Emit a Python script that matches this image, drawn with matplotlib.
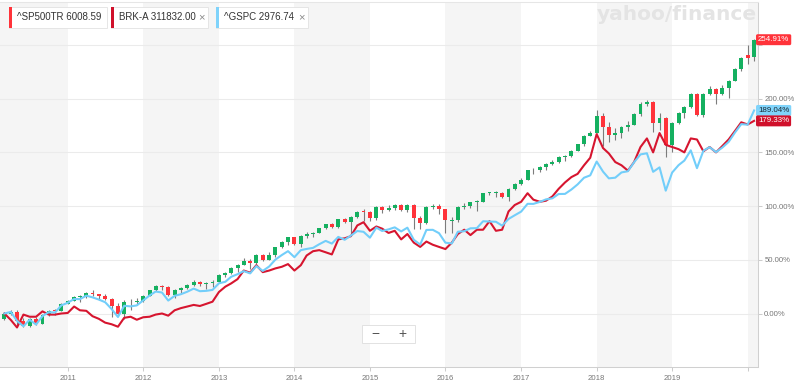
import matplotlib
matplotlib.use("Agg")
import matplotlib.pyplot as plt
import matplotlib.dates as mdates
import matplotlib.transforms as mtransforms
from matplotlib.patches import Rectangle
from datetime import datetime
import pandas as pd

plt.rcParams['font.family'] = ['Liberation Sans', 'DejaVu Sans']

# ---------------- data (percent change since Mar 2010) ----------------
months = pd.date_range('2010-03-01', periods=120, freq='MS')

tr_open = [-5.5, 0.0, 1.66, -6.52, -11.40, -5.15, -9.49, -1.40, 2.41, 2.35,
           9.22, 11.89, 15.66, 15.74, 19.25, 17.84, 15.89, 13.60, 7.33, -0.20, 10.74, 10.37,
           11.51, 16.57, 21.51, 25.53, 24.81, 17.19, 22.03, 23.79, 26.45, 29.73, 27.39, 27.97,
           29.10, 35.85, 37.58, 42.78, 45.61, 48.90, 46.92, 54.45, 49.87, 54.59, 61.77, 66.60,
           70.82, 65.02, 72.43, 73.93, 75.31, 79.31, 83.03, 80.58, 87.71, 85.12, 89.74, 94.73,
           94.25, 88.54, 99.24, 96.11, 98.13, 100.55, 96.67, 100.90, 88.65, 83.99, 99.60, 100.04,
           96.87, 86.00, 86.76, 99.42, 100.31, 103.73, 104.27, 111.91, 112.01, 112.12, 108.36, 115.84,
           120.16, 124.48, 133.23, 133.54, 136.08, 139.22, 140.79, 145.87, 146.42, 151.61, 157.64, 165.34,
           168.41, 183.98, 173.39, 166.49, 167.69, 173.94, 175.74, 186.17, 195.33, 197.12, 176.98, 182.41,
           156.93, 177.63, 186.38, 192.01, 204.01, 184.51, 204.64, 209.18, 204.11, 209.87, 216.75, 228.09,
           240.50, 239.00]

tr_high = [1.0, 3.5, 3.0, -4.0, -4.0, -3.0, -0.5, 3.5, 4.0, 9.8,
           13.0, 16.6, 17.0, 20.0, 21.5, 18.5, 18.5, 14.0, 10.0, 12.7, 13.5, 14.0,
           17.0, 22.0, 26.5, 26.5, 25.5, 22.8, 25.0, 27.5, 31.5, 30.5, 29.0, 31.0,
           36.5, 38.5, 43.2, 46.5, 52.0, 50.5, 55.0, 55.5, 57.0, 62.0, 67.2, 71.2,
           71.0, 73.2, 75.5, 76.0, 79.8, 83.5, 84.5, 88.3, 89.0, 90.5, 95.5, 97.5,
           95.5, 99.8, 100.5, 101.0, 101.8, 101.5, 102.0, 101.5, 91.0, 100.2, 102.0, 101.5,
           97.0, 89.5, 100.0, 102.5, 104.0, 106.0, 112.5, 113.5, 114.0, 113.0, 117.0, 121.5,
           126.0, 133.8, 135.5, 137.0, 139.8, 142.5, 146.5, 147.5, 152.0, 158.2, 166.0, 170.0,
           189.0, 186.5, 178.0, 172.5, 175.0, 179.0, 187.0, 196.5, 199.0, 198.0, 187.0, 183.0,
           178.5, 188.0, 193.0, 205.5, 205.5, 205.5, 211.5, 209.5, 212.5, 217.5, 228.5, 238.5,
           250.0, 255.2]

tr_low = [-6.5, -1.0, -11.0, -13.0, -13.0, -10.5, -10.0, -2.0, -1.0, 2.0,
          8.8, 11.5, 11.0, 14.5, 16.5, 12.5, 12.5, -3.0, -1.7, -5.1, 3.0, 7.5,
          11.0, 16.0, 20.8, 21.5, 16.0, 14.5, 19.5, 22.5, 26.0, 26.0, 22.5, 24.5,
          29.0, 34.0, 37.0, 38.5, 45.0, 41.0, 46.5, 48.5, 49.5, 52.5, 61.0, 63.5,
          63.5, 61.5, 70.5, 71.0, 74.5, 78.8, 80.0, 79.5, 84.0, 73.0, 89.0, 86.5,
          86.5, 87.5, 93.5, 95.5, 96.5, 95.5, 94.5, 78.5, 79.0, 83.5, 97.0, 93.0,
          75.0, 75.0, 85.5, 97.5, 98.0, 95.5, 103.5, 110.0, 108.0, 107.5, 105.0, 115.0,
          119.5, 124.0, 130.0, 131.5, 134.0, 138.5, 140.5, 142.0, 146.0, 151.5, 156.0, 165.0,
          168.0, 155.5, 160.0, 161.5, 163.5, 170.0, 175.5, 184.0, 193.5, 169.0, 170.5, 146.0,
          150.0, 176.5, 182.0, 191.5, 183.5, 183.0, 203.0, 195.0, 203.0, 200.5, 216.5, 225.5,
          232.5, 235.0]

tr_close = [0.0, 1.66, -6.52, -11.40, -5.15, -9.49, -1.40, 2.41, 2.35, 9.22,
            11.89, 15.66, 15.74, 19.25, 17.84, 15.89, 13.60, 7.33, -0.20, 10.74, 10.37, 11.51,
            16.57, 21.51, 25.53, 24.81, 17.19, 22.03, 23.79, 26.45, 29.73, 27.39, 27.97, 29.10,
            35.85, 37.58, 42.78, 45.61, 48.90, 46.92, 54.45, 49.87, 54.59, 61.77, 66.60, 70.82,
            65.02, 72.43, 73.93, 75.31, 79.31, 83.03, 80.58, 87.71, 85.12, 89.74, 94.73, 94.25,
            88.54, 99.24, 96.11, 98.13, 100.55, 96.67, 100.90, 88.65, 83.99, 99.60, 100.04, 96.87,
            87.20, 86.76, 99.42, 100.31, 103.73, 104.27, 111.91, 112.01, 112.12, 108.36, 115.84, 120.16,
            124.48, 133.23, 133.54, 136.08, 139.22, 140.79, 145.87, 146.42, 151.61, 157.64, 165.34, 168.41,
            183.98, 173.39, 166.49, 167.69, 173.94, 175.74, 186.17, 195.33, 197.12, 176.98, 182.41, 156.93,
            177.63, 186.38, 192.01, 204.01, 184.51, 204.64, 209.18, 204.11, 209.87, 216.75, 228.09, 238.05,
            238.10, 254.91]

brk = [0, -6, -13, -1, -3, -3, 2, -1, -1, 0,
       0.5, 6.5, 3, 2.5, -2.5, -5, -8.5, -10, -12.3, -4, -3, -5.8,
       -3.5, -3, -1, 0, -2, 3, 5, 6.5, 8, 7, 9, 11,
       20, 25, 28, 32, 40, 38, 45, 38.5, 40, 42, 43.5, 46,
       40, 45, 54, 58, 59, 57, 55, 69, 70, 72, 82, 85,
       77, 81, 79, 75, 77, 69, 74, 66, 62, 67, 64, 62,
       60, 66, 74, 78, 73, 78, 78, 86, 77, 78, 95, 101,
       104, 112, 106, 104, 105, 109, 116, 122, 127, 130, 138, 145,
       167, 154, 149, 141, 138, 133, 141, 155, 163, 150, 168, 157,
       155, 153, 150, 163, 162, 151, 155, 150, 156, 162, 170, 178,
       176, 179.33]

gspc = [0, 1.48, -6.84, -11.86, -5.80, -10.27, -2.41, 1.18, 0.95, 7.54,
        9.98, 13.49, 13.37, 16.60, 15.03, 12.93, 10.51, 4.23, -3.25, 7.17, 6.63, 7.54,
        12.23, 16.78, 20.44, 19.54, 12.05, 16.48, 17.95, 20.28, 23.19, 20.76, 21.10, 21.96,
        28.11, 29.52, 34.18, 36.61, 39.45, 37.36, 44.15, 39.64, 43.79, 50.20, 54.42, 58.06,
        52.43, 59.00, 60.11, 61.10, 64.49, 67.62, 65.09, 71.31, 68.65, 72.57, 76.80, 76.06,
        70.59, 79.96, 76.83, 78.34, 80.21, 76.42, 79.90, 68.64, 64.19, 77.81, 77.90, 74.78,
        65.91, 65.23, 76.13, 76.61, 79.31, 79.48, 85.87, 85.64, 85.41, 81.81, 88.02, 91.45,
        94.87, 102.12, 102.04, 103.88, 106.24, 107.23, 111.24, 111.35, 115.43, 120.21, 126.40, 128.62,
        141.47, 132.06, 125.82, 126.44, 131.33, 132.45, 140.83, 148.11, 149.18, 131.89, 136.03, 114.36,
        131.23, 138.11, 142.37, 151.90, 135.33, 151.55, 154.86, 150.25, 154.55, 159.75, 168.59, 176.27,
        175.82, 189.04]

year_labels = ['2011', '2012', '2013', '2014', '2015', '2016', '2017', '2018', '2019', '']
y_ticks = [0, 50, 100, 150, 200, 250]
y_labels = ['0.00%', '50.00%', '100.00%', '150.00%', '200.00%', '']

legend_items = [('^SP500TR 6008.59', '#ff333a', False),
                ('BRK-A 311832.00', '#d0102b', True),
                ('^GSPC 2976.74', '#7fd3fb', True)]
last_labels = [('254.91%', tr_close[-1], '#ff333a', 'white'),
               ('189.04%', gspc[-1], '#80d4fb', '#1b2a35'),
               ('179.33%', brk[-1], '#d0102b', 'white')]

# ---------------- figure ----------------
W, H = 800, 381
fig = plt.figure(figsize=(W / 100, H / 100), dpi=100)
ax = fig.add_axes([0, 14 / H, 758 / W, 365 / H])

xs = mdates.date2num(months.to_pydatetime())
d = lambda y, m=1, dd=1: mdates.date2num(datetime(y, m, dd))
x_left = d(2011) - 327.3
x_right = d(2011) + 3337.0
ax.set_xlim(x_left, x_right)
ax.set_ylim(-49.8, 290.0)

# alternating year bands
band_color = '#f5f5f5'
ax.axvspan(x_left, d(2011), color=band_color, lw=0, zorder=0)
for y in (2012, 2014, 2016, 2018):
    ax.axvspan(d(y), d(y + 1), color=band_color, lw=0, zorder=0)
ax.axvspan(d(2020), x_right, color=band_color, lw=0, zorder=0)

for v in y_ticks:
    ax.axhline(v, color='#ebebeb', lw=0.75, zorder=1)

# watermark
ax.text(0.893, 0.965, 'yahoo/finance', transform=ax.transAxes, ha='center', va='center',
        fontsize=14.5, fontweight='bold', color='#e4e4e4', zorder=1,
        family=['DejaVu Sans'])

# candlesticks
up = '#15b060'
down = '#ff333a'
colors = [up if c >= o else down for o, c in zip(tr_open, tr_close)]
bottoms = [min(o, c) for o, c in zip(tr_open, tr_close)]
heights = [max(abs(c - o), 0.8) for o, c in zip(tr_open, tr_close)]
ax.vlines(xs, tr_low, tr_high, color='#7c7c7c', lw=0.8, zorder=2)
ax.bar(xs, heights, bottom=bottoms, width=19, color=colors, lw=0, zorder=3)

# comparison lines
ax.plot(xs, brk, color='#d6152f', lw=1.5, zorder=4, solid_joinstyle='round')
ax.plot(xs, gspc, color='#72cefa', lw=1.5, zorder=5, solid_joinstyle='round')

# axes styling
for s in ('left',):
    ax.spines[s].set_visible(False)
ax.spines['top'].set_color('#e6e6e6')
ax.spines['right'].set_color('#d0d0d0')
ax.spines['bottom'].set_color('#d0d0d0')
for s in ('top', 'right', 'bottom'):
    ax.spines[s].set_linewidth(0.75)

ax.set_xticks([d(y) for y in range(2011, 2021)])
ax.set_xticklabels(year_labels)
ax.tick_params(axis='x', direction='out', length=3, width=0.75, color='#cccccc',
               labelsize=5.6, labelcolor='#777777', pad=2.5)
ax.yaxis.tick_right()
ax.set_yticks(y_ticks)
ax.set_yticklabels(y_labels)
ax.tick_params(axis='y', direction='out', length=3, width=0.75, color='#cccccc',
               labelsize=5.6, labelcolor='#777777', pad=1.5)

# last value boxes
trans = mtransforms.blended_transform_factory(ax.transAxes, ax.transData)
for txt, val, fc, tc in last_labels:
    ax.text(1.0, val, txt, transform=trans, ha='left', va='center', fontsize=5.7,
            color=tc, zorder=10, clip_on=False,
            bbox=dict(boxstyle='round,pad=0.25,rounding_size=0.2', fc=fc, ec='none'))


# ---------------- overlays in pixel coordinates ----------------
def fx(px):
    return px / W


def fy(py):
    return 1 - py / H


chip_spans = [(9, 107), (111, 208), (216, 308)]
for (label, col, closable), (x0, x1) in zip(legend_items, chip_spans):
    fig.add_artist(Rectangle((fx(x0), fy(28)), fx(x1 - x0), 21 / H, transform=fig.transFigure,
                             fc='white', ec='#e2e2e2', lw=0.6, zorder=20))
    fig.add_artist(Rectangle((fx(x0), fy(28)), fx(3.2), 21 / H, transform=fig.transFigure,
                             fc=col, ec='none', zorder=21))
    fig.text(fx(x0 + 8), fy(17.5), label, fontsize=7, color='#333333', va='center',
             ha='left', zorder=22)
    if closable:
        fig.text(fx(x1 - 7), fy(17.5), '\u00d7', fontsize=8, color='#8a8a8a', va='center',
                 ha='center', zorder=22)

# zoom control
fig.add_artist(Rectangle((fx(362), fy(343)), fx(53), 18 / H, transform=fig.transFigure,
                         fc='white', ec='#dddddd', lw=0.6, zorder=20))
fig.add_artist(Rectangle((fx(388.5), fy(339)), fx(0.8), 10 / H, transform=fig.transFigure,
                         fc='#dddddd', ec='none', zorder=21))
fig.text(fx(375), fy(334), '\u2212', fontsize=10, color='#555555', va='center', ha='center',
         zorder=22)
fig.text(fx(402), fy(334), '+', fontsize=10, color='#555555', va='center', ha='center',
         zorder=22)

fig.savefig('out.png', dpi=100)
